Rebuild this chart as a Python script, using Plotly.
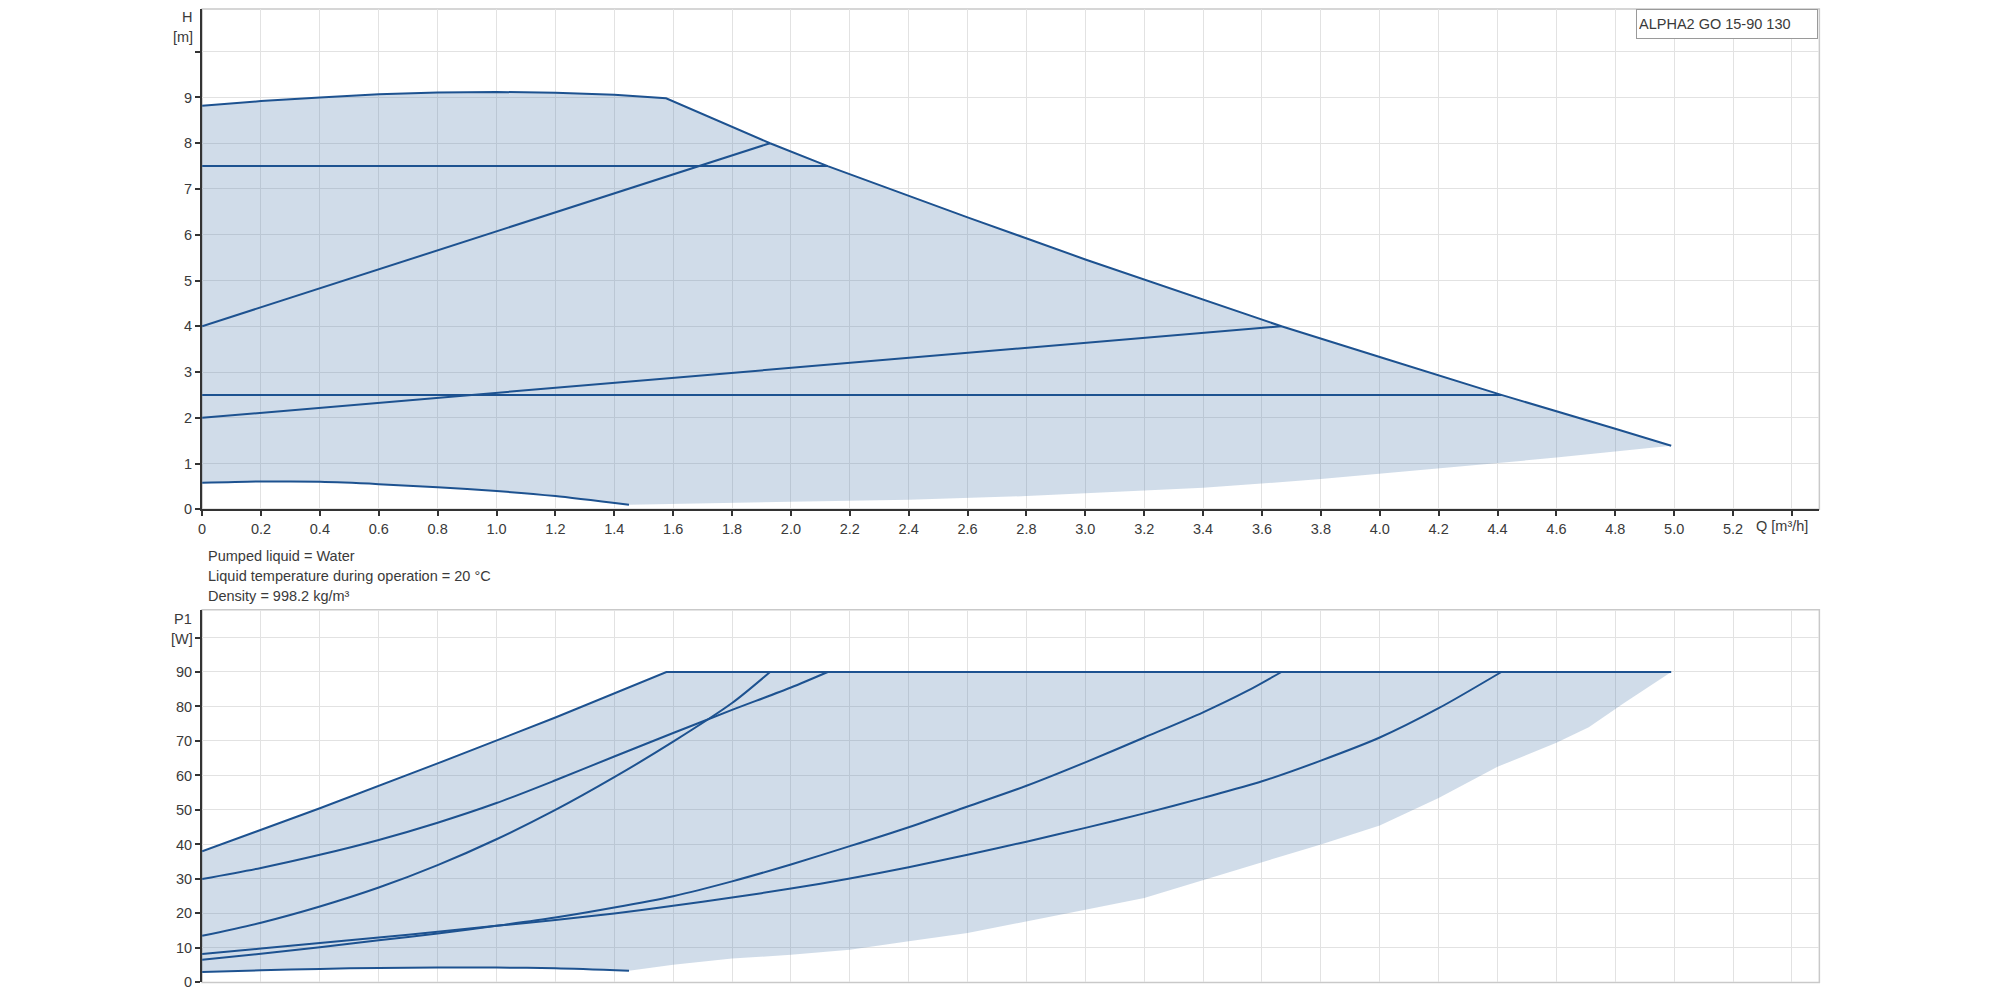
import plotly.graph_objects as go

# ---------------- H (head) chart data ----------------
q_h_max = [0, 0.2, 0.4, 0.6, 0.8, 1.0, 1.2, 1.4, 1.576, 1.929, 2.125, 2.6, 3.0, 3.666, 4.0, 4.413, 4.8, 4.99]
h_max = [8.82, 8.92, 9.0, 9.07, 9.11, 9.12, 9.1, 9.06, 8.98, 8.0, 7.5, 6.38, 5.46, 4.0, 3.33, 2.5, 1.76, 1.39]

q_h_cp_hi = [0, 2.125]
h_cp_hi = [7.5, 7.5]
q_h_pp_hi = [0, 1.929]
h_pp_hi = [4.0, 8.0]
q_h_cp_lo = [0, 4.413]
h_cp_lo = [2.5, 2.5]
q_h_pp_lo = [0, 3.666]
h_pp_lo = [2.0, 4.0]

q_h_min = [0, 0.2, 0.4, 0.6, 0.8, 1.0, 1.2, 1.45]
h_min = [0.58, 0.61, 0.6, 0.55, 0.48, 0.4, 0.29, 0.1]

q_h_low = [1.45, 1.6, 2.0, 2.4, 2.8, 3.0, 3.4, 3.8, 4.2, 4.6, 4.99]
h_low = [0.1, 0.11, 0.16, 0.21, 0.29, 0.35, 0.47, 0.66, 0.9, 1.13, 1.39]

# ---------------- P1 (power) chart data ----------------
q_p_max = [0, 0.4, 0.8, 1.2, 1.577, 4.99]
p_max = [38, 50.5, 63.5, 76.8, 90, 90]

q_p_cp_hi = [0, 0.2, 0.4, 0.6, 0.8, 1.0, 1.2, 1.4, 1.6, 1.8, 2.0, 2.125]
p_cp_hi = [30, 33.2, 37, 41.3, 46.3, 52, 58.6, 65.5, 72.3, 79, 85.5, 90]

q_p_pp_hi = [0, 0.2, 0.4, 0.6, 0.8, 1.0, 1.2, 1.4, 1.6, 1.8, 1.929]
p_pp_hi = [13.5, 17.3, 22, 27.5, 34, 41.5, 50, 59.5, 69.8, 81, 90]

q_p_pp_lo = [0, 0.2, 0.4, 0.6, 0.8, 1.0, 1.2, 1.4, 1.6, 1.8, 2.0, 2.2, 2.4, 2.6, 2.8, 3.0, 3.2, 3.4, 3.55, 3.666]
p_pp_lo = [6.6, 8.3, 10.2, 12.2, 14.2, 16.4, 18.8, 21.7, 25.0, 29.3, 34.2, 39.5, 45, 51, 57, 63.8, 71, 78.3, 84.5, 90]

q_p_cp_lo = [0, 0.2, 0.4, 0.6, 0.8, 1.0, 1.2, 1.4, 1.6, 1.8, 2.0, 2.2, 2.4, 2.6, 2.8, 3.0, 3.2, 3.4, 3.6, 3.8, 4.0, 4.2, 4.413]
p_cp_lo = [8.2, 9.8, 11.4, 13.0, 14.7, 16.4, 18.1, 20.0, 22.2, 24.6, 27.2, 30.1, 33.4, 37.0, 40.8, 44.8, 49.0, 53.5, 58.3, 64.3, 71.0, 79.5, 90]

q_p_min = [0, 0.2, 0.4, 0.6, 0.8, 1.0, 1.2, 1.45]
p_min = [3.0, 3.5, 3.9, 4.2, 4.3, 4.3, 4.1, 3.4]

q_p_low = [1.45, 1.6, 1.8, 2.0, 2.2, 2.4, 2.6, 2.8, 3.0, 3.2, 3.4, 3.6, 3.8, 4.0, 4.2, 4.4, 4.6, 4.71, 4.83, 4.99]
p_low = [3.4, 5.1, 6.9, 8.0, 9.5, 11.9, 14.3, 17.7, 21.1, 24.5, 29.5, 34.8, 40, 45.5, 53.5, 62.5, 69.5, 74, 81, 90]

q_ticks = [round(i * 0.2, 1) for i in range(28)]
q_ticktext = ["0" if v == 0 else ("" if v >= 5.4 else f"{v:.1f}") for v in q_ticks]
h_ticks = list(range(0, 11))
h_ticktext = [str(v) for v in range(10)] + [""]
p_ticks = list(range(0, 101, 10))
p_ticktext = [str(v) for v in range(0, 100, 10)] + [""]

info_lines = ["Pumped liquid = Water",
              "Liquid temperature during operation = 20 °C",
              "Density = 998.2 kg/m³"]
model_name = "ALPHA2 GO 15-90 130"

# ---------------- styling ----------------
W, H = 2000, 1000
SY = 1.0095            # vertical calibration factor
LINE = "#1d5290"
FILL = "rgba(86,128,176,0.28)"
GRID = "#e2e2e2"
FRAME = "#c9c9c9"
AXIS = "#333333"
TXT = "#3a3a3a"
FONT = "Liberation Sans, Arial, sans-serif"
FS = 14.5

x_left, x_right = 198.5, 1819
top1, bot1 = 9, 508.6
top2, bot2 = 609, 981
px_per_q = 295.0
q_max_range = (x_right - x_left) / px_per_q


def px(x):
    return x / W


def py(y):
    return 1 - y * SY / H


fig = go.Figure()

# fills
fig.add_trace(go.Scatter(
    x=q_h_max + q_h_low[::-1] + q_h_min[::-1],
    y=h_max + h_low[::-1] + h_min[::-1],
    fill="toself", fillcolor=FILL, line=dict(width=0), mode="lines",
    hoverinfo="skip", showlegend=False, xaxis="x", yaxis="y"))
fig.add_trace(go.Scatter(
    x=q_p_max + q_p_low[::-1] + q_p_min[::-1],
    y=p_max + p_low[::-1] + p_min[::-1],
    fill="toself", fillcolor=FILL, line=dict(width=0), mode="lines",
    hoverinfo="skip", showlegend=False, xaxis="x2", yaxis="y2"))

for qx, hy, shp in [(q_h_max, h_max, "linear"), (q_h_cp_hi, h_cp_hi, "linear"),
                    (q_h_pp_hi, h_pp_hi, "linear"), (q_h_cp_lo, h_cp_lo, "linear"),
                    (q_h_pp_lo, h_pp_lo, "linear"), (q_h_min, h_min, "spline")]:
    fig.add_trace(go.Scatter(x=qx, y=hy, mode="lines",
                             line=dict(color=LINE, width=2, shape=shp, smoothing=0.6),
                             showlegend=False, xaxis="x", yaxis="y"))

for qx, pyv, shp in [(q_p_max, p_max, "linear"), (q_p_cp_hi, p_cp_hi, "spline"),
                     (q_p_pp_hi, p_pp_hi, "spline"), (q_p_pp_lo, p_pp_lo, "spline"),
                     (q_p_cp_lo, p_cp_lo, "spline"), (q_p_min, p_min, "spline")]:
    fig.add_trace(go.Scatter(x=qx, y=pyv, mode="lines",
                             line=dict(color=LINE, width=2, shape=shp, smoothing=0.8),
                             showlegend=False, xaxis="x2", yaxis="y2"))

xdom = [px(x_left), px(x_right)]
common_x = dict(range=[0, q_max_range], domain=xdom, tickvals=q_ticks, showgrid=True,
                gridcolor=GRID, gridwidth=1, zeroline=False, fixedrange=True)

fig.update_layout(
    width=W, height=H, autosize=False,
    margin=dict(l=0, r=0, t=0, b=0),
    paper_bgcolor="white", plot_bgcolor="white",
    font=dict(family=FONT, size=FS, color=TXT),
    showlegend=False,
    xaxis=dict(**common_x, anchor="y", ticktext=q_ticktext, ticks="outside", ticklen=5,
               tickwidth=1.5, tickcolor=AXIS, showline=True, linecolor=AXIS, linewidth=2,
               tickfont=dict(size=FS, color=TXT)),
    yaxis=dict(range=[0, (bot1 - top1) / 45.7], domain=[py(bot1), py(top1)],
               anchor="x", tickvals=h_ticks, ticktext=h_ticktext, ticks="outside", ticklen=5,
               tickwidth=1.5, tickcolor=AXIS, showline=True, linecolor=AXIS, linewidth=2,
               showgrid=True, gridcolor=GRID, zeroline=False, fixedrange=True,
               tickfont=dict(size=FS, color=TXT)),
    xaxis2=dict(**common_x, anchor="y2", showticklabels=False, ticks="", showline=False),
    yaxis2=dict(range=[0, (bot2 - top2) / 3.444], domain=[py(bot2), py(top2)],
                anchor="x2", tickvals=p_ticks, ticktext=p_ticktext, ticks="outside", ticklen=5,
                tickwidth=1.5, tickcolor=AXIS, showline=True, linecolor=AXIS, linewidth=2,
                showgrid=True, gridcolor=GRID, zeroline=False, fixedrange=True,
                tickfont=dict(size=FS, color=TXT)),
)

# frames (light gray box around each plot)
for (t, b) in [(top1, bot1), (top2, bot2)]:
    fig.add_shape(type="rect", xref="paper", yref="paper",
                  x0=px(x_left), x1=px(x_right), y0=py(b), y1=py(t),
                  line=dict(color=FRAME, width=1.5), layer="below")

ann = []


def add_text(text, xpx, ypx, xanchor="left", size=FS):
    ann.append(dict(text=text, x=px(xpx), y=py(ypx), xref="paper", yref="paper",
                    xanchor=xanchor, yanchor="middle", showarrow=False,
                    font=dict(family=FONT, size=size, color=TXT)))


add_text("H", 190, 16.7, "right")
add_text("[m]", 191, 36.7, "right")
add_text("P1", 190, 618.3, "right")
add_text("[W]", 191, 637.7, "right")
add_text("Q [m³/h]", 1782, 525, "center")
for i, line in enumerate(info_lines):
    add_text(line, 202, 555 + 20 * i, "left")

ann.append(dict(text=model_name, x=px(1635), y=py(8.5), xref="paper", yref="paper",
                xanchor="left", yanchor="top", showarrow=False, align="left",
                width=176, height=24, bordercolor="#9a9a9a", borderwidth=1, borderpad=2,
                bgcolor="white", font=dict(family=FONT, size=FS, color=TXT)))
fig.update_layout(annotations=ann)

page_fix = ("document.documentElement.style.margin='0';"
            "document.documentElement.style.padding='0';"
            "document.documentElement.style.overflow='hidden';"
            "document.body.style.margin='0';"
            "document.body.style.padding='0';"
            "document.body.style.overflow='hidden';")
fig.write_html("out.html", post_script=page_fix, config={"displayModeBar": False})
